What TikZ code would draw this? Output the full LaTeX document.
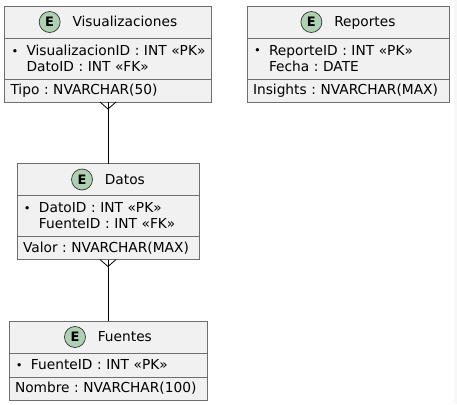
\documentclass[tikz,border=0pt]{standalone}
\usepackage{fontspec}
\setmainfont{DejaVu Sans}
\usetikzlibrary{positioning}

\definecolor{boxfill}{HTML}{F1F1F1}
\definecolor{boxline}{HTML}{6E6E6E}
\definecolor{markfill}{HTML}{ADD1B2}

\tikzset{
  emark/.style={circle,draw=black!80,fill=markfill,line width=0.7pt,
                minimum size=21pt,inner sep=0pt,outer sep=0pt,
                font=\fontsize{13}{13}\selectfont\bfseries},
  entbox/.style={draw=boxline,fill=boxfill,line width=0.7pt,
                 inner xsep=6pt,inner ysep=2pt,outer sep=0pt,
                 text width=#1,font=\fontsize{13.75}{16}\selectfont\frenchspacing},
  head/.style={entbox=#1,align=center,minimum height=32pt},
  attr/.style={entbox=#1,align=left,minimum height=41pt},
  attrone/.style={entbox=#1,align=left,minimum height=24pt},
  fld/.style={entbox=#1,align=left,minimum height=23pt},
  rel/.style={draw=black,line width=0.8pt}
}
\newcommand{\entmark}{\tikz[baseline=(m.base)]\node[emark](m){E};}
\newcommand{\pkey}[1]{\mbox{\makebox[16pt][l]{\hspace{1pt}\raisebox{0.6pt}{\fontsize{11.5}{11.5}\selectfont •}}#1}}
\newcommand{\nokey}[1]{\mbox{\hspace*{16pt}#1}}

\begin{document}
\begin{tikzpicture}[x=1pt,y=-1pt]
  \useasboundingbox (0,0) rectangle (457,404);
  \fill[black!3] (454,0) rectangle (457,404);

  % Visualizaciones
  \node[head=195pt]                  (visH) at (108,22) {\entmark\hspace{12pt}Visualizaciones};
  \node[attr=195pt, below=0pt of visH]  (visA) {\pkey{VisualizacionID : INT «PK»}\\\nokey{DatoID : INT «FK»}};
  \node[fld=195pt,  below=0pt of visA]  (visF) {Tipo : NVARCHAR(50)};

  % Reportes
  \node[head=190pt]                  (repH) at (348,22) {\entmark\hspace{12pt}Reportes};
  \node[attr=190pt, below=0pt of repH]  (repA) {\pkey{ReporteID : INT «PK»}\\\nokey{Fecha : DATE}};
  \node[fld=190pt,  below=0pt of repA]  (repF) {Insights : NVARCHAR(MAX)};

  % Datos
  \node[head=170pt]                  (datH) at (108,179.5) {\entmark\hspace{12pt}Datos};
  \node[attr=170pt, below=0pt of datH]  (datA) {\pkey{DatoID : INT «PK»}\\\nokey{FuenteID : INT «FK»}};
  \node[fld=170pt,  below=0pt of datA]  (datF) {Valor : NVARCHAR(MAX)};

  % Fuentes
  \node[head=186pt]                  (fueH) at (108,337) {\entmark\hspace{12pt}Fuentes};
  \node[attrone=186pt, below=0pt of fueH] (fueA) {\pkey{FuenteID : INT «PK»}};
  \node[fld=186pt,  below=0pt of fueA]  (fueF) {Nombre : NVARCHAR(100)};

  % relations (crow's foot on the many side)
  \path[rel] (visF.south) -- (datH.north);
  \path[rel] ([xshift=-8pt]visF.south) -- ([yshift=-7pt]visF.south) -- ([xshift=8pt]visF.south);
  \path[rel] (datF.south) -- (fueH.north);
  \path[rel] ([xshift=-8pt]datF.south) -- ([yshift=-7pt]datF.south) -- ([xshift=8pt]datF.south);
\end{tikzpicture}
\end{document}
